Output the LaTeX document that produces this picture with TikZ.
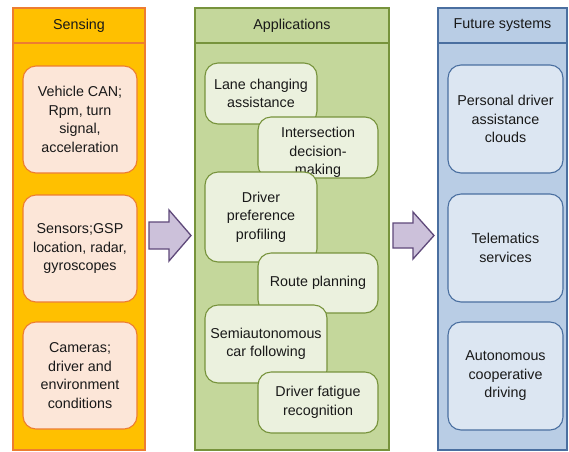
\documentclass[tikz,border=0pt]{standalone}
\usepackage{fontspec}
\setmainfont{Liberation Sans}
\begin{document}
\begin{tikzpicture}[x=1pt,y=-1pt,
  every node/.style={font=\fontsize{14.3}{18.5}\selectfont, text=black!90, align=center, inner sep=0pt},
  column/.style={draw=#1, line width=1.1pt},
  header/.style={draw=#1, line width=1.1pt},
  sensebox/.style={draw={rgb,255:red,237;green,125;blue,49}, fill={rgb,255:red,252;green,230;blue,216}, line width=1.1pt, rounded corners=13pt, minimum width=114pt},
  appbox/.style={draw={rgb,255:red,119;green,147;blue,60}, fill={rgb,255:red,235;green,241;blue,222}, line width=1.1pt, rounded corners=13pt},
  futbox/.style={draw={rgb,255:red,74;green,111;blue,160}, fill={rgb,255:red,220;green,230;blue,242}, line width=1.1pt, rounded corners=13pt, minimum width=115pt},
  bigarrow/.style={draw={rgb,255:red,95;green,73;blue,122}, fill={rgb,255:red,204;green,193;blue,218}, line width=1.3pt, line join=miter}
]
\useasboundingbox (0,0) rectangle (569,451);
\fill[white] (0,0) rectangle (569,451);

% column colours
\definecolor{senseBg}{RGB}{255,192,0}
\definecolor{senseLine}{RGB}{237,125,49}
\definecolor{appBg}{RGB}{196,215,155}
\definecolor{appLine}{RGB}{119,147,60}
\definecolor{futBg}{RGB}{185,205,229}
\definecolor{futLine}{RGB}{74,111,160}

% Sensing column
\draw[column=senseLine, fill=senseBg] (13,8) rectangle (145,450);
\draw[header=senseLine] (13,8) rectangle (145,43);
\node (hsense) at (79,25.5) {Sensing};

% Applications column
\draw[column=appLine, fill=appBg] (195,8) rectangle (389,450);
\draw[header=appLine] (195,8) rectangle (389,43);
\node (happ) at (292,25.5) {Applications};

% Future systems column
\draw[column=futLine, fill=futBg] (438,8) rectangle (567,450);
\draw[header=futLine] (438,8) rectangle (567,43);
\node (hfut) at (502.5,25.5) {Future systems};

% Sensing boxes
\node[sensebox, minimum height=107pt] (s1) at (80,119.5) {Vehicle CAN;\\Rpm, turn\\signal,\\acceleration};
\node[sensebox, minimum height=107pt] (s2) at (80,248.5) {Sensors;GSP\\location, radar,\\gyroscopes};
\node[sensebox, minimum height=107pt] (s3) at (80,375.5) {Cameras;\\driver and\\environment\\conditions};

% Application boxes, stacked so that each one overlaps the previous
\node[appbox, minimum width=112pt, minimum height=61pt] (a1) at (261,93.5) {Lane changing\\assistance};
\node[appbox, minimum width=120pt, minimum height=61pt] (a2) at (318,147.5) {};
\node (a2text) at (318,152.5) {Intersection\\decision-\\making};
\node[appbox, minimum width=112pt, minimum height=90pt] (a3) at (261,217) {Driver\\preference\\profiling};
\node[appbox, minimum width=120pt, minimum height=60pt] (a4) at (318,283) {Route planning};
\node[appbox, minimum width=122pt, minimum height=78pt] (a5) at (266,344) {Semiautonomous\\car following};
\node[appbox, minimum width=120pt, minimum height=61pt] (a6) at (318,402.5) {Driver fatigue\\recognition};

% Future system boxes
\node[futbox, minimum height=108pt] (f1) at (505.5,119) {Personal driver\\assistance\\clouds};
\node[futbox, minimum height=108pt] (f2) at (505.5,248) {Telematics\\services};
\node[futbox, minimum height=108pt] (f3) at (505.5,376) {Autonomous\\cooperative\\driving};

% Block arrows between the columns
\draw[bigarrow] (149,222) -- (169,222) -- (169,210) -- (191,235.5) -- (169,261) -- (169,249) -- (149,249) -- cycle;
\draw[bigarrow] (393,223) -- (413,223) -- (413,212) -- (434,235.5) -- (413,259) -- (413,248) -- (393,248) -- cycle;
\end{tikzpicture}
\end{document}
